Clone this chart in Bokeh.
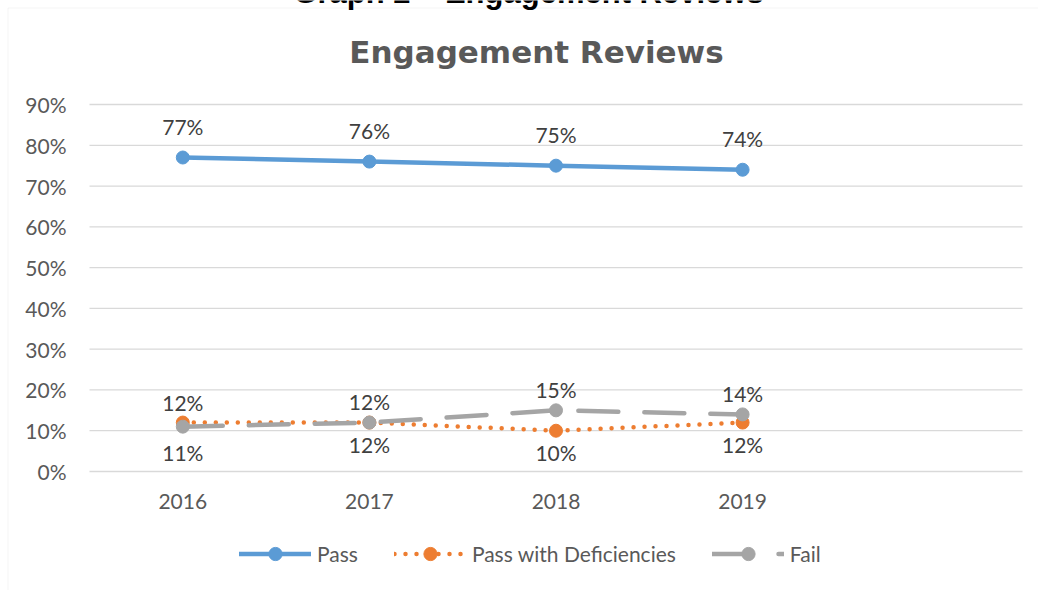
from bokeh.plotting import figure
from bokeh.models import (Range1d, FixedTicker, NumeralTickFormatter, ColumnDataSource,
                          Legend, LegendItem, Label, BoxAnnotation)
from bokeh.embed import file_html
from bokeh.resources import INLINE
from bokeh.core.properties import value

# ---------------- data ----------------
years = ["2016", "2017", "2018", "2019"]
pass_vals = [0.77, 0.76, 0.75, 0.74]
pwd_vals = [0.12, 0.12, 0.10, 0.12]
fail_vals = [0.11, 0.12, 0.15, 0.14]
y_ticks = [0.0, 0.1, 0.2, 0.3, 0.4, 0.5, 0.6, 0.7, 0.8, 0.9]
series_names = ["Pass", "Pass with Deficiencies", "Fail"]
chart_title = "Engagement Reviews"
caption = "Graph 2 \u2013 Engagement Reviews"
n_slots = 5  # four year categories plus one empty category slot

# ---------------- style / layout ----------------
PASS_C = "#5B9BD5"
PWD_C = "#ED7D31"
FAIL_C = "#A5A5A5"
GRID_C = "#D9D9D9"
AXIS_TXT = "#595959"
LBL_TXT = "#404040"
FONT = "Lato"
FS = "21px"

W, H = 1038, 590
PLOT_L, PLOT_R, PLOT_T, PLOT_B = 89, 1022, 104, 471   # plot area in pixels
ppx = (PLOT_R - PLOT_L) / n_slots                     # pixels per category slot
ppy = (PLOT_B - PLOT_T) / y_ticks[-1]                 # pixels per unit of share

xs = [i + 0.5 for i in range(len(years))]

x_range = Range1d(-PLOT_L / ppx, n_slots + (W - PLOT_R) / ppx)
y_range = Range1d(-(H - PLOT_B) / ppy, y_ticks[-1] + PLOT_T / ppy)

p = figure(width=W, height=H, x_range=x_range, y_range=y_range,
           output_backend="svg", toolbar_location=None,
           min_border=0, min_border_left=0, min_border_right=0,
           min_border_top=0, min_border_bottom=0, margin=0)
p.outline_line_color = None
p.background_fill_color = "white"
p.border_fill_color = "white"
p.xgrid.visible = False
p.ygrid.visible = False

# axes drawn at the plot-area edges
p.xaxis.fixed_location = 0
p.yaxis.fixed_location = 0
p.xaxis.ticker = FixedTicker(ticks=xs)
p.xaxis.major_label_overrides = {x: y for x, y in zip(xs, years)}
p.yaxis.ticker = FixedTicker(ticks=y_ticks)
p.yaxis.formatter = NumeralTickFormatter(format="0%")
for ax in (p.xaxis, p.yaxis):
    ax.axis_line_color = None
    ax.major_tick_line_color = None
    ax.minor_tick_line_color = None
    ax.major_tick_out = 0
    ax.major_tick_in = 0
    ax.minor_tick_out = 0
    ax.major_label_text_font = FONT
    ax.major_label_text_font_size = FS
    ax.major_label_text_color = AXIS_TXT
p.yaxis.major_label_standoff = 23
p.xaxis.major_label_standoff = 22

# horizontal gridlines across the category slots
p.segment(x0=[0] * len(y_ticks), x1=[n_slots] * len(y_ticks), y0=y_ticks, y1=y_ticks,
          line_color=GRID_C, line_width=1.3, level="underlay")

# chart frame border (left and top edges visible)
p.add_layout(BoxAnnotation(left=7.5, right=3000, top=H - 7.5, bottom=-3000,
                           left_units="screen", right_units="screen",
                           top_units="screen", bottom_units="screen",
                           fill_alpha=0, line_color=GRID_C, line_width=1))

# series
r_pl = p.line(xs, pass_vals, line_color=PASS_C, line_width=4.5, line_cap="round", line_join="round")
r_pm = p.scatter(xs, pass_vals, size=13, fill_color=PASS_C, line_color=PASS_C)
r_dl = p.line(xs, pwd_vals, line_color=PWD_C, line_width=4.5, line_cap="round", line_dash="0 11")
r_dm = p.scatter(xs, pwd_vals, size=13, fill_color=PWD_C, line_color=PWD_C)
r_fl = p.line(xs, fail_vals, line_color=FAIL_C, line_width=4.5, line_cap="round", line_dash="40 26")
r_fm = p.scatter(xs, fail_vals, size=13, fill_color=FAIL_C, line_color=FAIL_C)

# data labels
lx, ly, lt, ldy = [], [], [], []
for i, x in enumerate(xs):
    lx.append(x); ly.append(pass_vals[i]); lt.append(f"{round(pass_vals[i]*100)}%"); ldy.append(-31)
    fail_above = fail_vals[i] >= pwd_vals[i]
    lx.append(x); ly.append(pwd_vals[i]); lt.append(f"{round(pwd_vals[i]*100)}%")
    ldy.append(22 if fail_above else -20)
    lx.append(x); ly.append(fail_vals[i]); lt.append(f"{round(fail_vals[i]*100)}%")
    ldy.append(-21 if fail_above else 26)
src = ColumnDataSource(dict(x=lx, y=ly, t=lt, dy=ldy))
p.text(x="x", y="y", text="t", y_offset="dy", source=src, text_align="center",
       text_baseline="middle", text_font=value(FONT), text_font_size=FS, text_color=LBL_TXT)

# titles
p.add_layout(Label(x=536, y=H - 51, x_units="screen", y_units="screen", text=chart_title,
                   text_font="DejaVu Sans", text_font_style="bold", text_font_size="31px",
                   text_color=AXIS_TXT, text_align="center", text_baseline="alphabetic"))
p.add_layout(Label(x=528, y=H + 8, x_units="screen", y_units="screen", text=caption,
                   text_font="Liberation Sans", text_font_style="bold", text_font_size="31px",
                   text_color="black", text_align="center", text_baseline="alphabetic"))

# legend
legend = Legend(items=[LegendItem(label=series_names[0], renderers=[r_pl, r_pm]),
                       LegendItem(label=series_names[1], renderers=[r_dl, r_dm]),
                       LegendItem(label=series_names[2], renderers=[r_fl, r_fm])],
                orientation="horizontal", location=(239, H - 569.5),
                glyph_width=72, glyph_height=33, label_standoff=6, spacing=36,
                padding=0, margin=0, border_line_color=None, background_fill_alpha=0,
                label_text_font=FONT, label_text_font_size=FS, label_text_color=AXIS_TXT)
p.add_layout(legend, "center")

open("out.html", "w").write(file_html(p, INLINE))
